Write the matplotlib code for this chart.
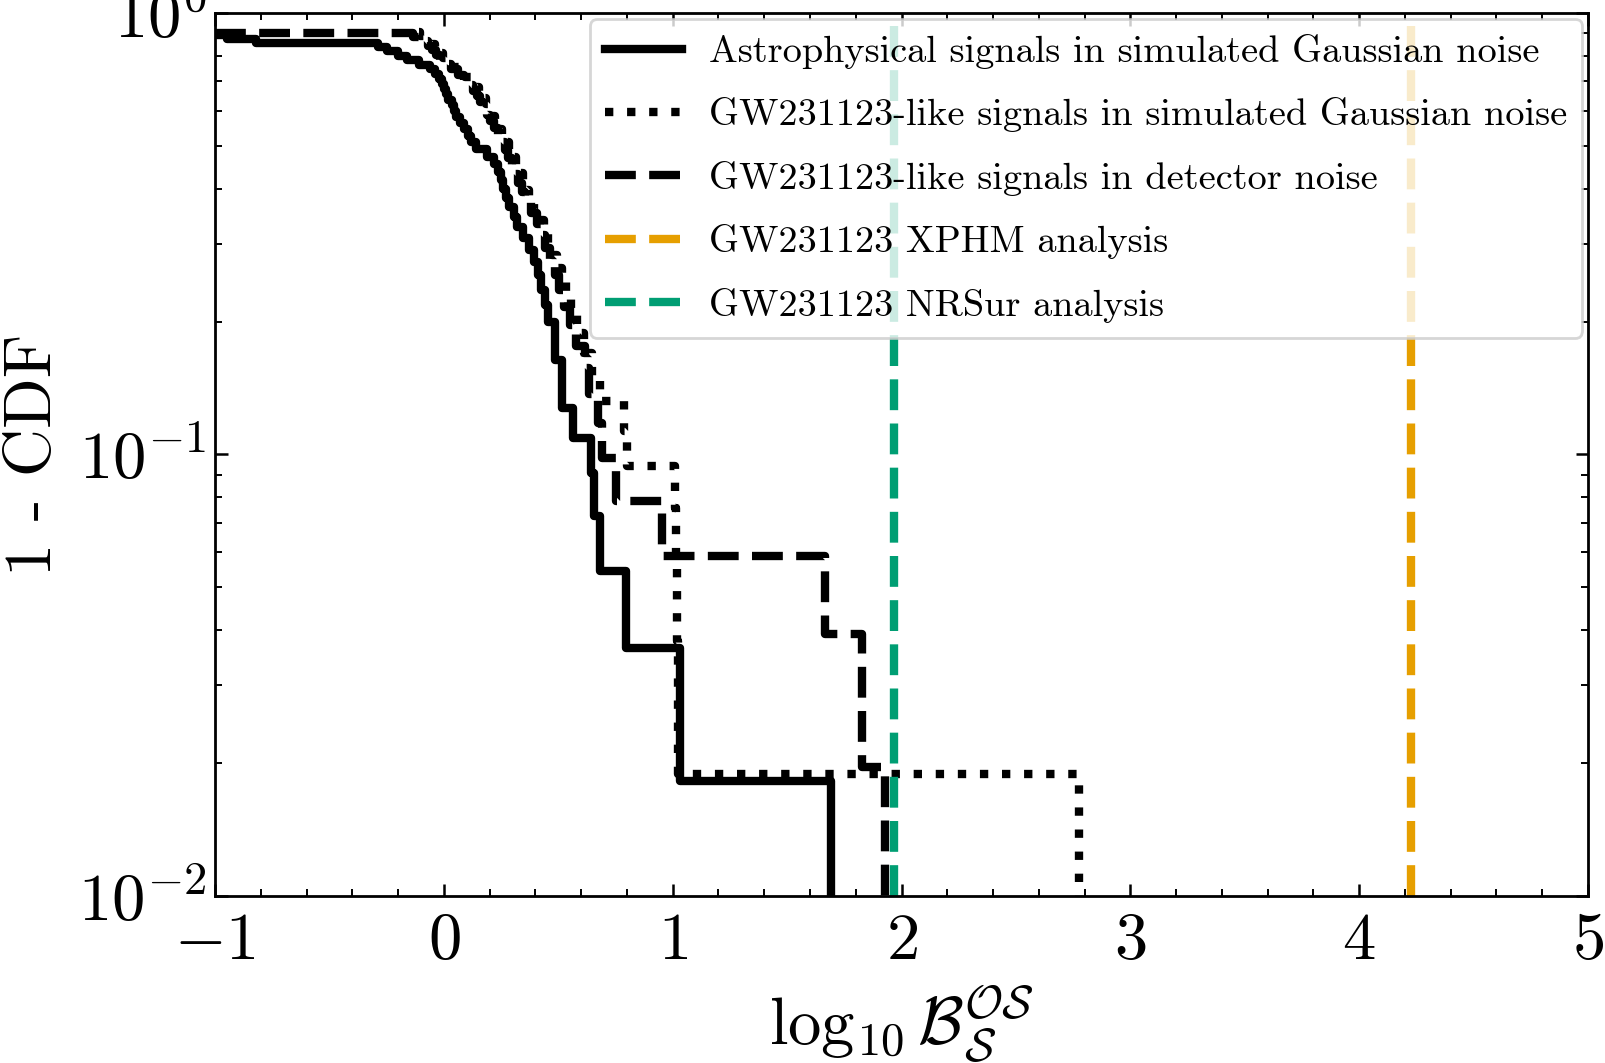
import numpy as np
import matplotlib

matplotlib.use("Agg")
import matplotlib.pyplot as plt
from matplotlib.ticker import LogLocator, MultipleLocator, NullFormatter

plt.rcParams.update({
    "font.family": "serif",
    "font.serif": ["cmr10"],
    "mathtext.fontset": "cm",
    "axes.formatter.use_mathtext": True,
    "axes.unicode_minus": True,
})

# log10 Bayes factors where each survival curve steps down;
# the "start" value is where a curve first appears, samples below it are not shown
astro_gauss_n = 55
astro_gauss_start = -1.0
astro_gauss_bf = [
    -0.95, -0.82, -0.288, -0.25, -0.20, -0.16, -0.11, -0.06, -0.04, -0.02,
    -0.008, 0.0, 0.01, 0.02, 0.035, 0.045, 0.055, 0.07, 0.09, 0.105,
    0.12, 0.14, 0.19, 0.22, 0.235, 0.25, 0.26, 0.27, 0.285, 0.305,
    0.32, 0.345, 0.37, 0.395, 0.41, 0.425, 0.44, 0.455, 0.485, 0.487,
    0.514, 0.514, 0.565, 0.645, 0.655, 0.681, 0.798, 1.031, 1.690,
]

like_gauss_n = 53
like_gauss_start = -0.11
like_gauss_bf = [
    -0.105, -0.085, -0.058, -0.038, -0.021, -0.003, 0.014, 0.035, 0.064, 0.094,
    0.123, 0.139, 0.153, 0.167, 0.182, 0.196, 0.21, 0.225, 0.24, 0.256,
    0.271, 0.286, 0.301, 0.315, 0.33, 0.344, 0.358, 0.372, 0.395, 0.421,
    0.438, 0.456, 0.474, 0.495, 0.515, 0.534, 0.554, 0.581, 0.612, 0.649,
    0.681, 0.785, 0.80, 1.008, 1.013, 1.018, 1.022, 2.777,
]

like_detector_n = 51
like_detector_start = -1.0
like_detector_bf = [
    -0.136, -0.102, -0.070, -0.052, -0.034, -0.016, 0.002, 0.029, 0.060, 0.090,
    0.114, 0.128, 0.143, 0.158, 0.172, 0.187, 0.203, 0.219, 0.235, 0.251,
    0.266, 0.281, 0.297, 0.312, 0.326, 0.341, 0.355, 0.382, 0.406, 0.425,
    0.443, 0.463, 0.485, 0.505, 0.525, 0.550, 0.578, 0.617, 0.635, 0.672,
    0.689, 0.754, 0.955, 1.666, 1.826, 1.926,
]

xphm_bf = 4.225
nrsur_bf = 1.965

curve_labels = [
    "Astrophysical signals in simulated Gaussian noise",
    "GW231123-like signals in simulated Gaussian noise",
    "GW231123-like signals in detector noise",
]
xphm_label = "GW231123 XPHM analysis"
nrsur_label = "GW231123 NRSur analysis"


def survival_steps(start, samples, n_total):
    x = np.concatenate([[start], np.sort(samples)])
    y = (len(samples) - np.arange(len(samples) + 1)) / n_total
    return x, y


fig = plt.figure(figsize=(8.025, 5.315), dpi=200)
ax = fig.add_axes([0.134, 0.1571, 0.8554, 0.8307])

curves = [
    (astro_gauss_start, astro_gauss_bf, astro_gauss_n, "-"),
    (like_gauss_start, like_gauss_bf, like_gauss_n, ":"),
    (like_detector_start, like_detector_bf, like_detector_n, "--"),
]
for (start, samples, n_total, ls), label in zip(curves, curve_labels):
    x, y = survival_steps(start, samples, n_total)
    ax.step(x, y, where="post", color="black", ls=ls, lw=3, label=label)

ax.axvline(xphm_bf, color="#E69F00", ls="--", lw=3, label=xphm_label)
ax.axvline(nrsur_bf, color="#009E73", ls="--", lw=3, label=nrsur_label)

ax.set_yscale("log")
ax.set_xlim(-1, 5)
ax.set_ylim(1e-2, 1)
ax.xaxis.set_major_locator(MultipleLocator(1))
ax.xaxis.set_minor_locator(MultipleLocator(0.2))
ax.yaxis.set_major_locator(LogLocator(base=10))
ax.yaxis.set_minor_locator(LogLocator(base=10, subs=np.arange(2, 10)))
ax.yaxis.set_minor_formatter(NullFormatter())

for side in ax.spines.values():
    side.set_linewidth(1.0)
ax.tick_params(which="both", direction="in", top=True, right=True, labelsize=24)
ax.tick_params(which="major", length=4.5, width=0.9)
ax.tick_params(which="minor", length=2.5, width=0.7)
ax.tick_params(axis="x", which="major", pad=6)
ax.tick_params(axis="y", which="major", pad=3)

ax.set_xlabel(r"$\log_{10} \mathcal{B}^{\mathcal{OS}}_{\mathcal{S}}$", fontsize=24, labelpad=4)
ax.set_ylabel("1 - CDF", fontsize=24)
ax.yaxis.set_label_coords(-0.11, 0.5)

ax.legend(loc="upper right", fontsize=13.8, handlelength=2.0, handletextpad=0.7,
          labelspacing=0.74, borderaxespad=0.15)

fig.savefig("out.png", dpi=200)
